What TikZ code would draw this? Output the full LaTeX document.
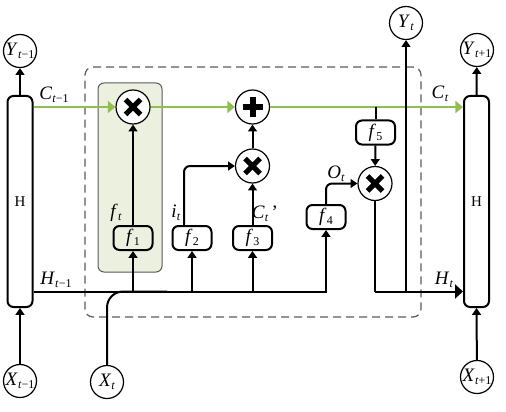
\documentclass[tikz,border=0pt]{standalone}
\usepackage{fontspec}
\setmainfont{Liberation Serif}
\usetikzlibrary{arrows.meta,calc}
\definecolor{lgreen}{RGB}{146,190,80}
\definecolor{lfill}{RGB}{235,241,222}
\definecolor{dgray}{RGB}{90,90,90}
\newcommand\lb[2]{\textit{#1}\kern0.1pt\raisebox{-0.35ex}{\fontsize{6}{6}\selectfont#2}}
\newcommand\timesmark[1]{\draw[line width=2.5pt] ([shift={(-7.5,-7.5)}]#1.center) -- ([shift={(7.5,7.5)}]#1.center) ([shift={(-7.5,7.5)}]#1.center) -- ([shift={(7.5,-7.5)}]#1.center);}
\newcommand\plusmark[1]{\draw[line width=3pt] ([shift={(-10,0)}]#1.center) -- ([shift={(10,0)}]#1.center) ([shift={(0,-10)}]#1.center) -- ([shift={(0,10)}]#1.center);}
\begin{document}
\begin{tikzpicture}[x=0.5pt,y=-0.5pt,
  ln/.style={line width=1pt},
  arr/.style={ln,-{Triangle[length=3.4pt,width=4.4pt]}},
  barr/.style={ln,-{Triangle[length=4pt,width=7pt]}},
  garr/.style={line width=1.1pt,draw=lgreen,-{Triangle[length=3.8pt,width=6pt]}},
  io/.style={circle,draw,line width=0.6pt,minimum size=16.5pt,inner sep=0,font=\fontsize{9.5}{10}\selectfont},
  hbox/.style={draw,line width=1pt,rounded corners=3pt,minimum width=12.5pt,minimum height=105.5pt,inner sep=0,font=\fontsize{7.5}{8}\selectfont},
  fbox/.style={draw,line width=1pt,rounded corners=3pt,minimum width=19.5pt,minimum height=12pt,inner sep=0,font=\fontsize{9.5}{10}\selectfont},
  op/.style={circle,draw,line width=0.6pt,minimum size=17pt,inner sep=0,fill=white},
  lab/.style={inner sep=0,font=\fontsize{9.5}{10}\selectfont},
  cellbox/.style={draw=dgray,dashed,dash pattern=on 4pt off 2.5pt,line width=0.6pt,rounded corners=4pt,minimum width=168pt,minimum height=125pt,inner sep=0},
  gatebox/.style={draw=dgray,fill=lfill,line width=0.5pt,rounded corners=3pt,minimum width=32pt,minimum height=94.5pt,inner sep=0}
]
\useasboundingbox (0,0) rectangle (506,411);
% frames
\node[cellbox] (cell) at (253,192) {};
\node[gatebox] (gate) at (130,177.5) {};
% H boxes
\node[hbox] (hL) at (20,201.5) {H};
\node[hbox] (hR) at (476.5,201.5) {H};
% io circles
\node[io] (yL) at (20,51) {\lb{Y}{\textit{t}−1}};
\node[io] (xL) at (20,381) {\lb{X}{\textit{t}−1}};
\node[io] (yR) at (477,50) {\lb{Y}{\textit{t}+1}};
\node[io] (xR) at (477,377) {\lb{X}{\textit{t}+1}};
\node[io] (yt) at (406,23) {\lb{Y}{\textit{t}}};
\node[io] (xt) at (107,382) {\lb{X}{\textit{t}}};
% operators
\node[op] (m1) at (133,107) {};
\node[op] (pl) at (252.5,107) {};
\node[op] (m2) at (252.5,166) {};
\node[op] (m3) at (375,183.5) {};
% f boxes
\node[fbox] (f1) at (133,238) {\lb{f}{1}};
\node[fbox] (f2) at (192,238) {\lb{f}{2}};
\node[fbox] (f3) at (252.5,238) {\lb{f}{3}};
\node[fbox] (f4) at (326,217) {\lb{f}{4}};
\node[fbox] (f5) at (375.5,132.5) {\lb{f}{5}};
\coordinate (hline) at (250,291.5);
% black connectors
\draw[arr] (hL.north) -- (yL);
\draw[arr] (xL) -- (hL.south);
\draw[arr] (hR.north) -- (yR);
\draw[arr] (xR) -- (hR.south);
% green cell-state line
\draw[garr] (hL.east |- m1) -- (m1.west);
\draw[garr] (m1.east) -- (pl.west);
\draw[garr] (pl.east) -- (hR.west |- pl);
\draw[ln] (f5 |- pl) -- (f5.north);
\draw[arr] (f5) -- (m3);
\draw[ln] (m3.south) -- (m3 |- hline);
\draw[barr] (m3 |- hline) -- (hR.west |- hline);
\draw[arr] (yt |- hline) -- (yt);
\draw[arr] (hL.east |- hline) -- (f4 |- hline) -- (f4.south);
\draw[arr] (f1 |- hline) -- (f1.south);
\draw[arr] (f2 |- hline) -- (f2.south);
\draw[arr] (f3 |- hline) -- (f3.south);
\draw[ln,rounded corners=8pt] (xt.north) -- (xt |- hline) -- ([xshift=30]xt |- hline);
\draw[arr] (f1) -- (m1);
\draw[arr,rounded corners=3pt] ([xshift=-4]f2.north) -- ([xshift=-4]f2.north |- m2) -- (m2.west);
\draw[arr] (f3) -- (m2);
\draw[arr] (m2) -- (pl);
\draw[arr,rounded corners=3pt] (f4.north) -- (f4.north |- m3) -- (m3.west);
% operator glyphs
\timesmark{m1}
\timesmark{m2}
\timesmark{m3}
\plusmark{pl}
% labels
\node[lab] (lc1) at (54,95) {\lb{C}{\textit{t}−1}};
\node[lab] (lh1) at (56,280) {\lb{H}{\textit{t}−1}};
\node[lab] (lft) at (116,213) {\lb{f}{\textit{t}}};
\node[lab] (lit) at (176,213) {\lb{i}{\textit{t}}};
\node[lab] (lcp) at (265,214) {\lb{C}{\textit{t}}\,'};
\node[lab] (lot) at (336,174) {\lb{O}{\textit{t}}};
\node[lab] (lct) at (440,94) {\lb{C}{\textit{t}}};
\node[lab] (lht) at (444,280) {\lb{H}{\textit{t}}};
\end{tikzpicture}
\end{document}
